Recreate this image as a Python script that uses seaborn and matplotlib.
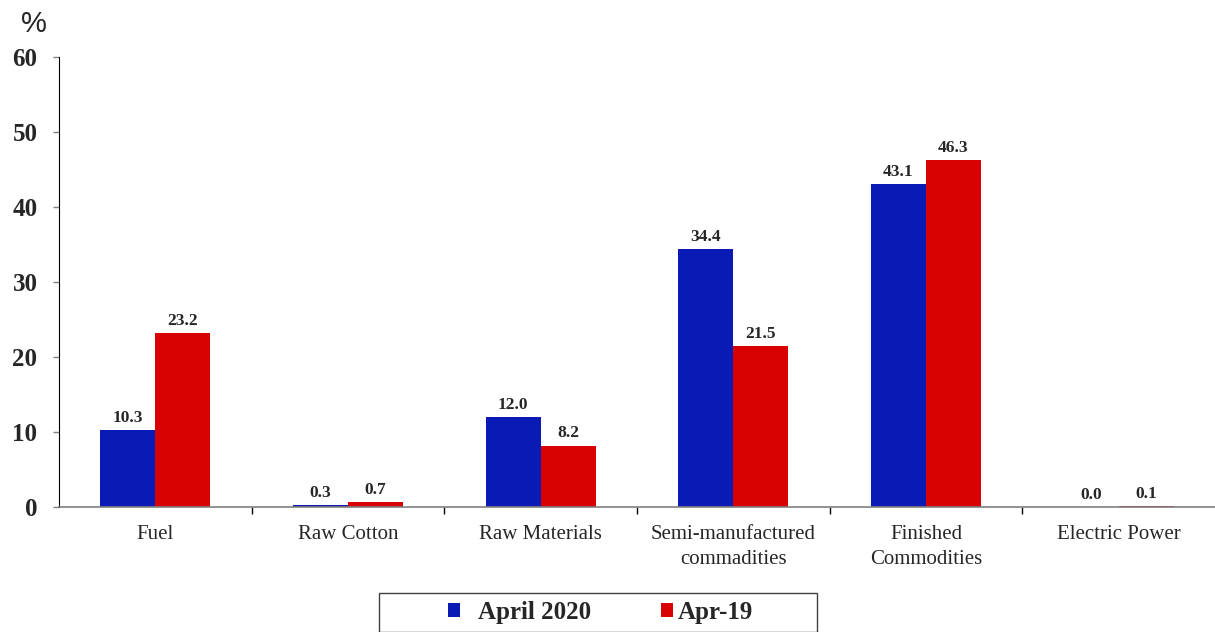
import pandas as pd
import numpy as np
from matplotlib import pyplot as plt
from matplotlib.ticker import FixedLocator
from matplotlib.patches import Rectangle
import seaborn as sb

sb.set_style('white')
plt.rcParams['font.family'] = ['Liberation Serif', 'DejaVu Serif']

categories = ['Fuel', 'Raw Cotton', 'Raw Materials', 'Semi-manufactured\ncommadities',
              'Finished\nCommodities', 'Electric Power']
april_2020 = [10.3, 0.3, 12.0, 34.4, 43.1, 0.0]
apr_19 = [23.2, 0.7, 8.2, 21.5, 46.3, 0.1]
series = ['April 2020', 'Apr-19']

df = pd.DataFrame({'category': categories * 2,
                   'value': april_2020 + apr_19,
                   'series': [series[0]] * 6 + [series[1]] * 6})

W, H = 1215, 632
fig = plt.figure(figsize=(W / 100, H / 100), dpi=100)
ax = fig.add_axes([59 / W, 1 - 507 / H, 1 - 59 / W, (507 - 57) / H])

sb.barplot(data=df, x='category', y='value', hue='series', order=categories,
           hue_order=series, palette=['#0A1AB4', '#D80000'], width=0.57,
           saturation=1, linewidth=0, ax=ax, legend=True)

for c in ax.containers:
    ax.bar_label(c, fmt='%.1f', padding=3, fontsize=12.5, fontweight='bold')

ax.set_ylim(0, 60)
ax.set_xlim(-0.5, 5.5)
ax.set_yticks(range(0, 61, 10))
ax.set_xlabel('')
ax.set_ylabel('')

for lab in ax.get_yticklabels():
    lab.set_fontweight('bold')
    lab.set_fontsize(18)
ax.tick_params(axis='y', length=4.5, width=1, color='#808080', pad=11, left=True)
ax.tick_params(axis='x', which='major', length=0, pad=13, labelsize=15)
for lab in ax.get_xticklabels():
    lab.set_linespacing(1.45)
ax.xaxis.set_minor_locator(FixedLocator(np.arange(0.5, 5.0, 1.0)))
ax.tick_params(axis='x', which='minor', length=5, width=1, color='black',
               direction='out', bottom=True)

ax.spines['top'].set_visible(False)
ax.spines['right'].set_visible(False)
ax.spines['left'].set_color('black')
ax.spines['bottom'].set_color('#808080')
ax.spines['bottom'].set_linewidth(1.2)

fig.text(34 / W, 1 - 24 / H, '%', fontname='Liberation Sans',
         fontsize=21, ha='center', va='center')

# legend: frame drawn as a separate box, one entry per legend
fig.patches.append(Rectangle((379 / W, 0), 438 / W, 1 - 593 / H,
                             transform=fig.transFigure, fill=False,
                             edgecolor='#404040', linewidth=1.0))
handles, labels = ax.get_legend_handles_labels()
ax.get_legend().remove()
for h, l, x0, tpad in [(handles[0], labels[0], 448, 0.72), (handles[1], labels[1], 661, 0.2)]:
    fig.legend([h], [l], loc='center left',
               bbox_to_anchor=(x0 / W, 1 - 612 / H), bbox_transform=fig.transFigure,
               prop={'weight': 'bold', 'size': 18}, frameon=False,
               handlelength=0.48, handleheight=0.48, handletextpad=tpad,
               borderpad=0, borderaxespad=0)

fig.savefig('out.png', dpi=100)
